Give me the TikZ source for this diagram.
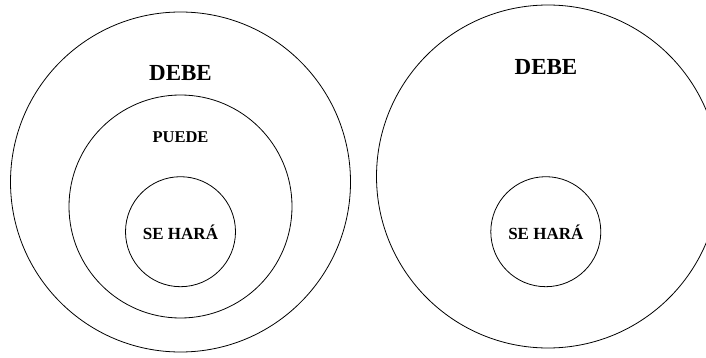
\documentclass[tikz,border=0pt]{standalone}
\usepackage{fontspec}
\setmainfont{Liberation Serif}
\begin{document}
\begin{tikzpicture}[x=1pt,y=-1pt,
  ring/.style={circle,draw=black,line width=0.8pt,inner sep=0pt},
  lbl/.style={font=\bfseries,inner sep=0pt,anchor=center}]
\clip (0,0) rectangle (706,358);
\useasboundingbox (0,0) rectangle (706,358);
% left diagram
\node[ring,minimum size=340pt] (L1) at (180.5,182) {};
\node[ring,minimum size=223pt] (L2) at (180.5,206.5) {};
\node[ring,minimum size=110pt] (L3) at (180.5,231.7) {};
\node[lbl,font=\fontsize{23}{26}\selectfont\bfseries] (Ldebe) at (180.5,73) {DEBE};
\node[lbl,font=\fontsize{16.5}{19}\selectfont\bfseries] (Lpuede) at (180.5,137) {PUEDE};
\node[lbl,font=\fontsize{17}{20}\selectfont\bfseries] (Lse) at (180.5,232.5) {SE HARÁ};
% right diagram
\node[ring,minimum size=343pt] (R1) at (548,176.5) {};
\node[ring,minimum size=110pt] (R3) at (545.8,231.7) {};
\node[lbl,font=\fontsize{23}{26}\selectfont\bfseries] (Rdebe) at (546,67.5) {DEBE};
\node[lbl,font=\fontsize{17}{20}\selectfont\bfseries] (Rse) at (545.8,232.5) {SE HARÁ};
\end{tikzpicture}
\end{document}
